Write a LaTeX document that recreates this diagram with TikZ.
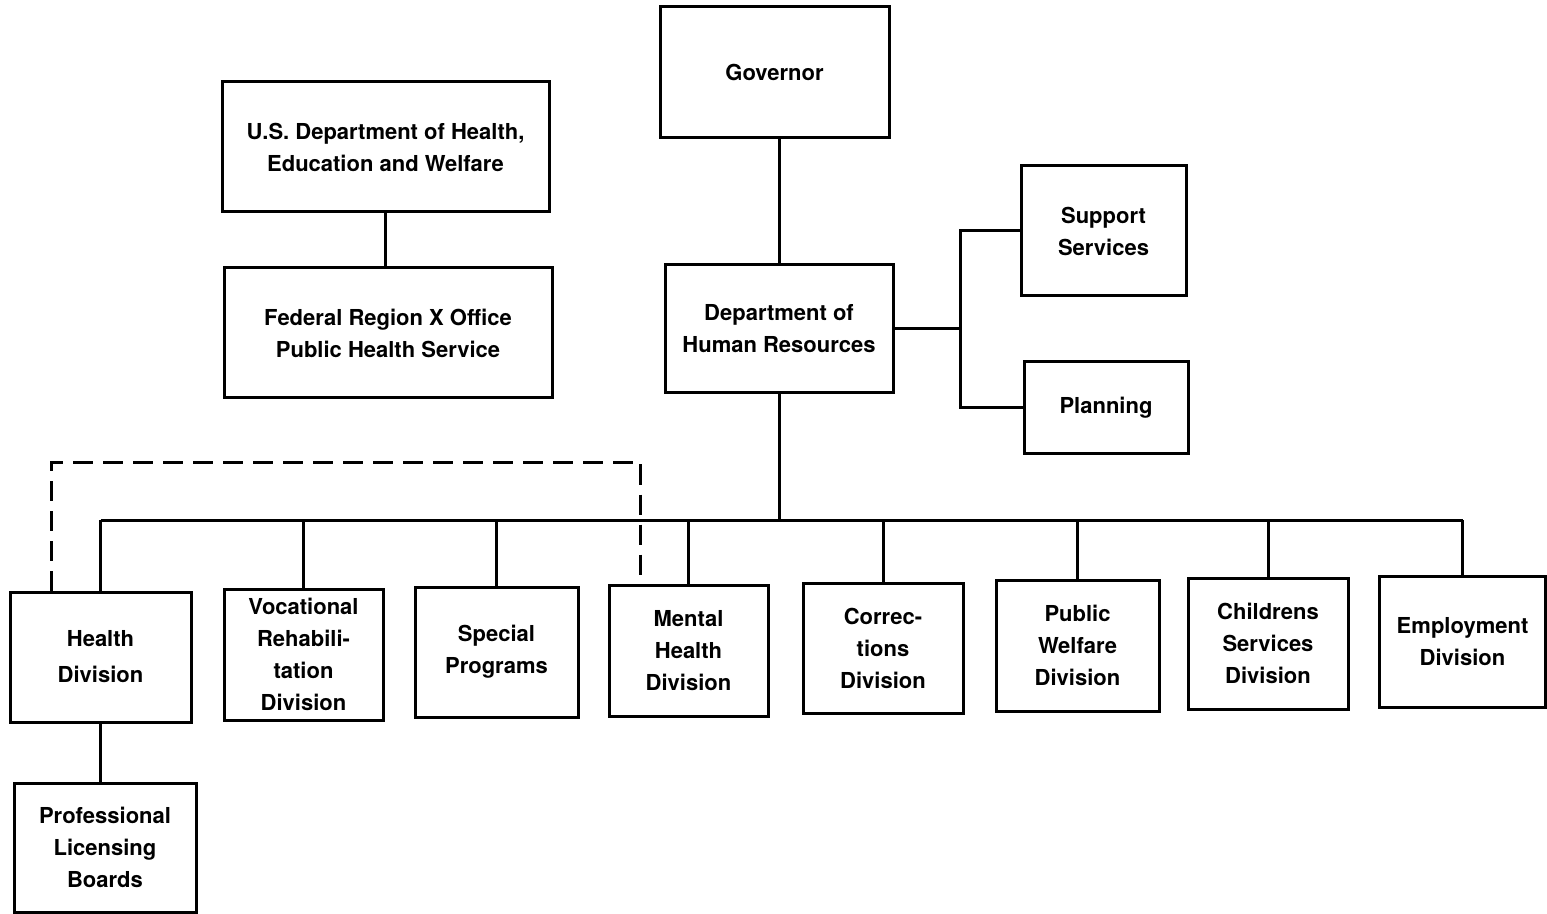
\documentclass[tikz,border=0pt]{standalone}
\usepackage{fontspec}
\setmainfont{TeX Gyre Heros}
\begin{document}
\begin{tikzpicture}[x=0.5pt,y=-0.5pt,
  box/.style={draw, line width=1.5pt, align=center, inner sep=0pt,
    font=\bfseries\fontsize{11}{16}\selectfont},
  link/.style={line width=1.5pt},
  dashlink/.style={line width=1.5pt, dash pattern=on 10pt off 5pt}]
\useasboundingbox (0,0) rectangle (1547,914);

% top of the hierarchy
\node[box, minimum width=114.5pt, minimum height=65.5pt] (gov) at (774.5,72.5) {Governor};
\node[box, minimum width=163.5pt, minimum height=65pt] (hew) at (385.5,147) {U.S. Department of Health,\\Education and Welfare};
\node[box, minimum width=164pt, minimum height=65pt] (fed) at (388,333) {Federal Region X Office\\Public Health Service};
\node[box, minimum width=114pt, minimum height=64pt] (dhr) at (779,329) {Department of\\Human Resources};
\node[box, minimum width=82.5pt, minimum height=65pt] (sup) at (1103.5,231) {Support\\Services};
\node[box, minimum width=82pt, minimum height=46pt] (plan) at (1106,408) {Planning};

% divisions
\node[box, minimum width=90.5pt, minimum height=65pt] (health) at (100.5,657) {Health\\[2pt]Division};
\node[box, minimum width=79.5pt, minimum height=65.5pt] (voc) at (303.5,654.5) {Vocational\\Rehabili-\\tation\\Division};
\node[box, minimum width=81.5pt, minimum height=65pt] (spec) at (496.5,652) {Special\\Programs};
\node[box, minimum width=79.5pt, minimum height=65.5pt] (mental) at (688.5,650.5) {Mental\\Health\\Division};
\node[box, minimum width=80pt, minimum height=65pt] (corr) at (883,648) {Correc-\\tions\\Division};
\node[box, minimum width=81.5pt, minimum height=65.5pt] (pub) at (1077.5,645.5) {Public\\Welfare\\Division};
\node[box, minimum width=80pt, minimum height=65.5pt] (child) at (1268,643.5) {Childrens\\Services\\Division};
\node[box, minimum width=83pt, minimum height=65.5pt] (emp) at (1462.5,641.5) {Employment\\Division};
\node[box, minimum width=91pt, minimum height=64.5pt] (prof) at (105,847.5) {Professional\\Licensing\\Boards};

% connectors
\coordinate (bus) at (0,520);
\coordinate (staff) at (960,0);
\coordinate (dash) at (0,462);

\draw[link] (dhr.north) -- (dhr.north |- gov.south);
\draw[link] (hew.south) -- (hew.south |- fed.north);
\draw[link] (dhr.east) -- (dhr.east -| staff);
\draw[link] (sup.west) -| (staff |- plan.west) -- (plan.west);

\draw[link] (dhr.south) -- (dhr.south |- bus);
\draw[link] (health.north |- bus) -- (emp.north |- bus);
\foreach \n in {health,voc,spec,mental,corr,pub,child,emp}
  \draw[link] (\n.north) -- (\n.north |- bus);

\draw[link] (health.south) -- (health.south |- prof.north);

\draw[dashlink] ([xshift=21.5pt]health.north west) |- ([xshift=16.5pt]mental.north west |- dash)
  -- ([xshift=16.5pt]mental.north west);
\end{tikzpicture}
\end{document}
